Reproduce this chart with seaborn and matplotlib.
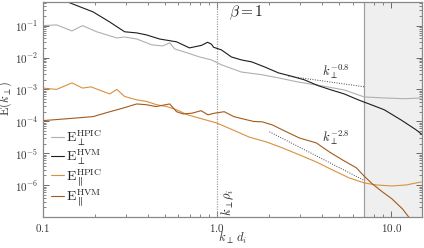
import matplotlib
matplotlib.use("Agg")
import matplotlib.pyplot as plt
import seaborn as sns
from matplotlib.ticker import LogLocator, NullFormatter

# perpendicular spectra, HPIC (light gray) and HVM (black)
k_perp_hpic = [0.100, 0.120, 0.147, 0.169, 0.204, 0.242, 0.266, 0.295, 0.346, 0.422,
               0.488, 0.535, 0.571, 0.677, 0.794, 0.929, 1.06, 1.38, 1.80, 2.25,
               2.93, 3.97, 5.38, 7.0, 9.1, 11.9, 15.1]
e_perp_hpic = [0.100, 0.105, 0.068, 0.100, 0.064, 0.048, 0.041, 0.044, 0.038, 0.025,
               0.023, 0.029, 0.0186, 0.0139, 0.0104, 0.0084, 0.0059, 0.0035, 0.0029, 0.0023,
               0.0017, 0.0013, 0.00096, 0.00058, 0.00054, 0.00051, 0.00054]

k_perp_hvm = [0.100, 0.137, 0.194, 0.242, 0.295, 0.346, 0.394, 0.468, 0.586, 0.695,
              0.814, 0.883, 0.93, 0.955, 1.06, 1.21, 1.38, 1.58, 1.87, 2.25,
              2.67, 3.17, 3.82, 4.53, 5.38, 6.47, 7.68, 9.12, 11.4, 13.9, 15.1]
e_perp_hvm = [0.75, 0.565, 0.27, 0.13, 0.064, 0.059, 0.051, 0.038, 0.031, 0.020,
              0.024, 0.030, 0.026, 0.021, 0.0173, 0.0104, 0.0084, 0.0073, 0.0051, 0.0033,
              0.0026, 0.0020, 0.0013, 0.00096, 0.00072, 0.00047, 0.00033, 0.00023, 0.00011, 0.000054, 0.000038]

# parallel spectra, HPIC (light orange) and HVM (brown)
k_par_hpic = [0.100, 0.120, 0.147, 0.169, 0.189, 0.242, 0.266, 0.295, 0.346, 0.394,
              0.451, 0.515, 0.586, 0.677, 0.794, 0.993, 1.23, 1.53, 1.92, 2.37,
              2.97, 3.72, 4.59, 5.74, 7.0, 8.2, 10.1, 12.2, 14.9]
e_par_hpic = [1.1e-3, 1.0e-3, 1.6e-3, 1.1e-3, 1.2e-3, 7.2e-4, 1.0e-3, 6.0e-4, 4.7e-4, 4.2e-4,
              3.3e-4, 2.9e-4, 2.3e-4, 1.6e-4, 1.25e-4, 8.9e-5, 5.4e-5, 3.2e-5, 2.26e-5, 1.47e-5,
              8.9e-6, 5.3e-6, 3.0e-6, 1.68e-6, 1.17e-6, 1.01e-6, 9.4e-7, 1.01e-6, 1.26e-6]

k_par_hvm = [0.100, 0.137, 0.194, 0.235, 0.289, 0.346, 0.394, 0.447, 0.535, 0.586,
             0.639, 0.719, 0.810, 0.887, 0.97, 1.10, 1.25, 1.40, 1.62, 1.82,
             2.08, 2.37, 2.97, 3.72, 4.41, 5.24, 6.30, 7.0, 7.78, 8.88,
             10.1, 11.6, 12.6, 13.6]
e_par_hvm = [1.05e-4, 1.2e-4, 1.4e-4, 1.9e-4, 2.6e-4, 3.5e-4, 3.3e-4, 2.9e-4, 3.5e-4, 2.0e-4,
             1.7e-4, 1.8e-4, 2.15e-4, 1.6e-4, 1.8e-4, 2.0e-4, 1.4e-4, 1.2e-4, 9.9e-5, 9.6e-5,
             7.7e-5, 5.4e-5, 3.0e-5, 2.1e-5, 1.1e-5, 6.2e-6, 3.5e-6, 1.9e-6, 1.1e-6, 6.2e-7,
             3.7e-7, 1.8e-7, 1.0e-7, 6.0e-8]

# reference power laws
fit_08_k = [2.57, 7.0]
fit_08_e = [0.0026, 0.00121]
fit_28_k = [2.0, 7.0]
fit_28_e = [4.7e-5, 1.4e-6]

series = [
    (k_perp_hpic, e_perp_hpic, "#b0b0b0", r"$\mathrm{E}_{\perp}^{\mathrm{HPIC}}$"),
    (k_perp_hvm, e_perp_hvm, "#1c1c1c", r"$\mathrm{E}_{\perp}^{\mathrm{HVM}}$"),
    (k_par_hpic, e_par_hpic, "#d8913f", r"$\mathrm{E}_{\parallel}^{\mathrm{HPIC}}$"),
    (k_par_hvm, e_par_hvm, "#a35a1c", r"$\mathrm{E}_{\parallel}^{\mathrm{HVM}}$"),
]

sns.set_style("ticks")
plt.rcParams["font.family"] = ["DejaVu Serif"]
plt.rcParams["mathtext.fontset"] = "cm"

fig = plt.figure(figsize=(4.24, 2.48), dpi=100)
ax = fig.add_axes([0.101, 0.125, 0.894, 0.867])

ax.axvspan(7.0, 20, color="#efefef", zorder=0, lw=0)
ax.axvline(7.0, color="#a0a0a0", lw=0.9, zorder=1)
ax.axvline(1.0, color="#a0a0a0", lw=0.9, ls=(0, (1, 1)), zorder=1)

for k, e, c, lab in series:
    sns.lineplot(x=k, y=e, color=c, lw=0.8, label=lab, ax=ax, estimator=None, sort=False)

ax.plot(fit_08_k, fit_08_e, color="#444444", lw=0.7, ls=(0, (1, 1.5)))
ax.plot(fit_28_k, fit_28_e, color="#444444", lw=0.7, ls=(0, (1, 1.5)))

ax.set_xscale("log")
ax.set_yscale("log")
ax.set_xlim(0.1, 15)
ax.set_ylim(1e-7, 0.55)

ax.set_xticks([0.1, 1.0, 10.0])
ax.set_xticklabels([r"$0.1$", r"$1.0$", r"$10.0$"])
ax.set_yticks([1e-6, 1e-5, 1e-4, 1e-3, 1e-2, 1e-1])
ax.set_yticklabels([r"$10^{-6}$", r"$10^{-5}$", r"$10^{-4}$", r"$10^{-3}$", r"$10^{-2}$", r"$10^{-1}$"])
ax.xaxis.set_minor_locator(LogLocator(base=10, subs=range(2, 10)))
ax.yaxis.set_minor_locator(LogLocator(base=10, subs=range(2, 10), numticks=20))
ax.xaxis.set_minor_formatter(NullFormatter())
ax.yaxis.set_minor_formatter(NullFormatter())
ax.tick_params(which="both", direction="in", top=True, right=True, colors="#555555",
               labelcolor="#333333", labelsize=8)
ax.tick_params(which="major", length=4, width=0.6)
ax.tick_params(which="minor", length=2, width=0.5)
for s in ax.spines.values():
    s.set_color("#888888")
    s.set_linewidth(0.9)

ax.set_xlabel(r"$k_{\perp}\, d_i$", fontsize=9, labelpad=-3, color="#333333")
ax.set_ylabel(r"$\mathrm{E}(k_{\perp})$", fontsize=9, labelpad=0, color="#333333")
ax.yaxis.set_label_coords(-0.075, 0.55)

ax.text(1.17, 0.25, r"$\beta = 1$", fontsize=11, color="#222222", va="center")
ax.text(4.8, 0.0036, r"$k_{\perp}^{-0.8}$", fontsize=9, color="#222222", ha="center", va="center")
ax.text(4.8, 3.0e-5, r"$k_{\perp}^{-2.8}$", fontsize=9, color="#222222", ha="center", va="center")
ax.text(1.04, 3.0e-7, r"$k_{\perp}\rho_i$", fontsize=9, color="#222222", rotation=90,
        ha="left", va="center")

ax.legend(loc="upper left", bbox_to_anchor=(0.0, 0.45), frameon=False, fontsize=10,
          handlelength=0.9, handletextpad=0.2, labelspacing=0.0, borderaxespad=0.2)

fig.savefig("out.png", dpi=100)
